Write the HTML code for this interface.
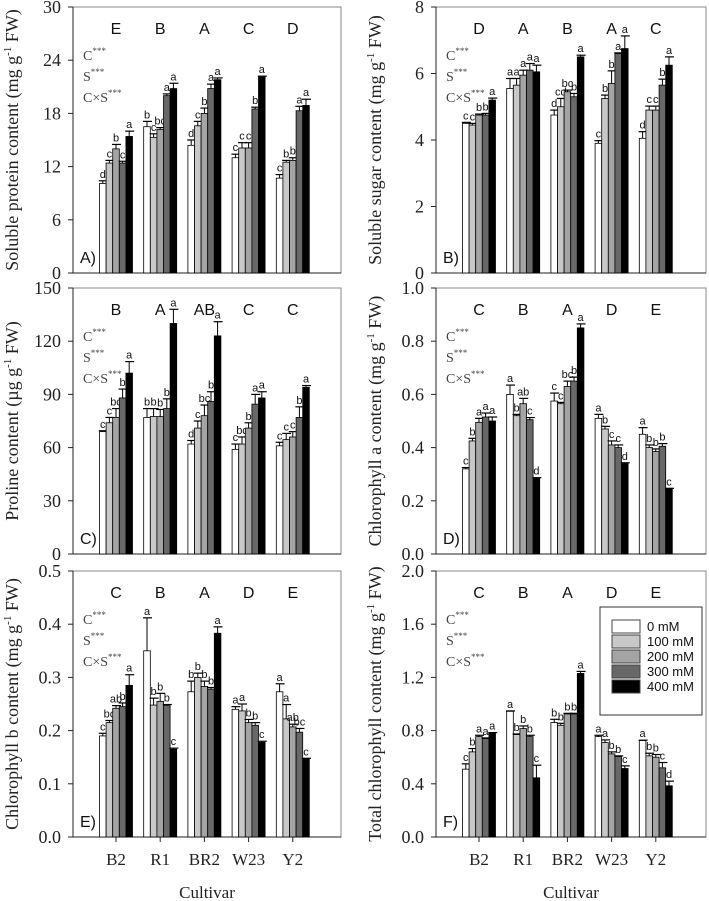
<!DOCTYPE html>
<html><head><meta charset="utf-8">
<style>
body{margin:0;background:#fff;}
svg{display:block;}
.tick{font-family:"Liberation Serif",serif;font-size:18px;fill:#222;}
.ytitle{font-family:"Liberation Serif",serif;font-size:18px;fill:#222;}
.glet{font-family:"Liberation Sans",sans-serif;font-size:16px;fill:#111;}
.blet{font-family:"Liberation Sans",sans-serif;font-size:11px;fill:#111;}
.sig{font-family:"Liberation Serif",serif;font-size:14px;fill:#444;}
.plab{font-family:"Liberation Sans",sans-serif;font-size:16px;fill:#111;}
.xl{font-family:"Liberation Serif",serif;font-size:17px;fill:#222;}
.leg{font-family:"Liberation Sans",sans-serif;font-size:13px;fill:#111;}
</style></head>
<body>
<svg id="fig" width="709" height="901" viewBox="0 0 709 901" xmlns="http://www.w3.org/2000/svg"></svg>
<script>
const cultivars = ["B2","R1","BR2","W23","Y2"];
const treatments = ["0 mM","100 mM","200 mM","300 mM","400 mM"];
const fills = ["#ffffff","#c8c8c8","#a4a4a4","#686868","#000000"];

const proteinVals = [[10.1,12.4,14.0,12.4,15.4],[16.5,15.3,16.2,20.0,20.8],[14.4,16.6,18.0,20.8,21.8],[13.0,14.1,14.1,18.5,22.1],[10.7,12.5,12.7,18.3,18.9]];
const proteinErr = [[0.3,0.3,0.5,0.2,0.6],[0.6,0.4,0.2,0.2,0.6],[0.6,0.5,0.6,0.5,0.2],[0.4,0.6,0.6,0.2,0.1],[0.4,0.2,0.3,0.5,0.7]];
const proteinLet = [["d","c","b","c","a"],["b","c","bc","a","a"],["d","c","b","a","a"],["c","c","c","b","a"],["c","b","b","a","a"]];
const proteinGroup = ["E","B","A","C","D"];

const sugarVals = [[4.5,4.45,4.75,4.75,5.2],[5.55,5.65,5.95,6.1,6.05],[4.75,5.0,5.45,5.3,6.5],[3.9,5.25,5.7,6.6,6.75],[4.05,4.9,4.9,5.65,6.25]];
const sugarErr = [[0.03,0.05,0.03,0.05,0.06],[0.3,0.2,0.15,0.2,0.2],[0.15,0.25,0.05,0.1,0.05],[0.08,0.1,0.38,0.02,0.38],[0.2,0.12,0.12,0.18,0.25]];
const sugarLet = [["c","c","b","b","a"],["a","a","a","a","a"],["d","cd","bc","b","a"],["c","b","b","a","a"],["d","c","c","b","a"]];
const sugarGroup = ["D","A","B","A","C"];

const prolineVals = [[69,74,77,88,102],[77,77.5,77.5,82,130],[62,71,78,86,123],[59,62,71,84.5,88],[61,64.5,66,77,94]];
const prolineErr = [[0.5,3,5,5,6.5],[5,4.5,4,5.5,8],[2,4,6,5.5,8],[3,4,3,5.5,3.5],[2,3.5,3,6,1]];
const prolineLet = [["c","c","bc","b","a"],["b","b","b","b","a"],["d","c","bc","b","a"],["c","bc","b","a","a"],["c","c","c","b","a"]];
const prolineGroup = ["B","A","AB","C","C"];

const chlaVals = [[0.32,0.425,0.495,0.515,0.50],[0.60,0.52,0.565,0.505,0.285],[0.575,0.565,0.63,0.65,0.85],[0.51,0.47,0.41,0.40,0.34],[0.45,0.40,0.385,0.405,0.245]];
const chlaErr = [[0.005,0.01,0.015,0.015,0.015],[0.035,0.005,0.02,0.008,0.002],[0.03,0.005,0.02,0.015,0.015],[0.015,0.01,0.015,0.01,0.003],[0.025,0.01,0.01,0.01,0.002]];
const chlaLet = [["c","b","a","a","a"],["a","b","ab","c","d"],["c","c","bc","b","a"],["a","b","c","c","d"],["a","b","b","b","c"]];
const chlaGroup = ["C","B","A","D","E"];

const chlbVals = [[0.19,0.215,0.242,0.245,0.285],[0.35,0.248,0.255,0.247,0.165],[0.273,0.30,0.283,0.278,0.383],[0.24,0.237,0.215,0.21,0.178],[0.273,0.222,0.207,0.197,0.147]];
const chlbErr = [[0.005,0.004,0.005,0.007,0.02],[0.062,0.013,0.015,0.002,0.002],[0.02,0.008,0.01,0.003,0.012],[0.005,0.013,0.006,0.005,0.002],[0.015,0.027,0.005,0.007,0.001]];
const chlbLet = [["c","bc","ab","b","a"],["a","b","b","b","c"],["b","b","b","b","a"],["a","a","b","b","c"],["a","a","ab","bc","c"]];
const chlbGroup = ["C","B","A","D","E"];

const totVals = [[0.51,0.64,0.755,0.74,0.78],[0.945,0.77,0.815,0.755,0.445],[0.86,0.84,0.925,0.925,1.23],[0.755,0.71,0.625,0.605,0.515],[0.725,0.61,0.60,0.52,0.385]];
const totErr = [[0.04,0.025,0.01,0.005,0.005],[0.003,0.005,0.02,0.01,0.095],[0.025,0.015,0.005,0.005,0.015],[0.01,0.02,0.015,0.005,0.02],[0.003,0.02,0.02,0.04,0.035]];
const totLet = [["c","b","a","a","a"],["a","b","b","b","c"],["b","b","b","b","a"],["a","a","b","b","c"],["a","b","b","c","d"]];
const totGroup = ["C","B","A","D","E"];

const NS = "http://www.w3.org/2000/svg";
const svg = document.getElementById("fig");
function mk(tag, attrs, parent, text){
  const e = document.createElementNS(NS, tag);
  for (const k in attrs) e.setAttribute(k, attrs[k]);
  if (text !== undefined) e.textContent = text;
  (parent || svg).appendChild(e);
  return e;
}

const panels = [
  {id:"a",label:"A)",x:73,y:7,w:268,h:266,max:30,ticks:[0,6,12,18,24,30],dec:0,title:"Soluble protein content (mg g",vals:proteinVals,err:proteinErr,lets:proteinLet,grp:proteinGroup,xl:false},
  {id:"b",label:"B)",x:436,y:7,w:270,h:266,max:8,ticks:[0,2,4,6,8],dec:0,title:"Soluble sugar content (mg g",vals:sugarVals,err:sugarErr,lets:sugarLet,grp:sugarGroup,xl:false},
  {id:"c",label:"C)",x:73,y:288,w:268,h:266,max:150,ticks:[0,30,60,90,120,150],dec:0,title:"Proline content (\u00b5g g",vals:prolineVals,err:prolineErr,lets:prolineLet,grp:prolineGroup,xl:false},
  {id:"d",label:"D)",x:436,y:288,w:270,h:266,max:1.0,ticks:[0,0.2,0.4,0.6,0.8,1.0],dec:1,title:"Chlorophyll a content (mg g",vals:chlaVals,err:chlaErr,lets:chlaLet,grp:chlaGroup,xl:false},
  {id:"e",label:"E)",x:73,y:571,w:268,h:266,max:0.5,ticks:[0,0.1,0.2,0.3,0.4,0.5],dec:1,title:"Chlorophyll b content (mg g",vals:chlbVals,err:chlbErr,lets:chlbLet,grp:chlbGroup,xl:true},
  {id:"f",label:"F)",x:436,y:571,w:270,h:266,max:2.0,ticks:[0,0.4,0.8,1.2,1.6,2.0],dec:1,title:"Total chlorophyll content (mg g",vals:totVals,err:totErr,lets:totLet,grp:totGroup,xl:true}
];

panels.forEach(p=>{
  const g = mk("g",{});
  
  
  const yS = v => p.y + p.h - v/p.max*p.h;
  const bw = 6.6;
  const gx = ci => p.x + 43 + ci*44.2;
  const xS = (ci, ti) => gx(ci) + (ti-2.5)*bw;
  const fr = mk("rect",{x:p.x,y:p.y,width:p.w,height:p.h,fill:"none",stroke:"#888","stroke-width":1},g);
  
  
  mk("line",{x1:p.x,y1:p.y,x2:p.x,y2:p.y+p.h,stroke:"#222","stroke-width":1},g);
  mk("line",{x1:p.x,y1:p.y+p.h,x2:p.x+p.w,y2:p.y+p.h,stroke:"#222","stroke-width":1},g);
  p.ticks.forEach(t=>{
    const y = yS(t);
    mk("line",{x1:p.x-5,y1:y,x2:p.x,y2:y,stroke:"#222"},g);
    const tl = mk("text",{x:p.x-12,y:y+6,"text-anchor":"end",class:"tick"},g,t.toFixed(p.dec));
    
    
  });
  const cx = p.x - 55, cy = p.y + p.h/2;
  const yt = mk("text",{x:cx,y:cy,"text-anchor":"middle",class:"ytitle",transform:`rotate(-90 ${cx} ${cy})`},g,"");
  
  
  mk("tspan",{},yt,p.title);
  mk("tspan",{dy:-7,"font-size":11},yt,"-1");
  mk("tspan",{dy:7},yt," FW)");
  [["C",0],["S",1],["C\u00d7S",2]].forEach(([s,i])=>{
    const t = mk("text",{x:p.x+10,y:p.y+53+i*21,class:"sig"},g,"");
    
    
    mk("tspan",{},t,s);
    mk("tspan",{dy:-6,"font-size":9},t,"***");
  });
  const pl = mk("text",{x:p.x+7,y:p.y+p.h-10,class:"plab"},g,p.label);
  
  
  p.vals.forEach((row,ci)=>{
    const gl = mk("text",{x:gx(ci),y:p.y+27,"text-anchor":"middle",class:"glet"},g,p.grp[ci]);
    
    
    row.forEach((v,ti)=>{
      const x = xS(ci,ti), y = yS(v);
      const r = mk("rect",{x:x,y:y,width:bw,height:p.y+p.h-y,fill:fills[ti],stroke:"#000","stroke-width":0.8},g);
      
      
      const ey = yS(v + p.err[ci][ti]);
      const mx = x + bw/2;
      mk("line",{x1:mx,y1:y,x2:mx,y2:ey,stroke:"#000","stroke-width":1},g);
      mk("line",{x1:mx-4,y1:ey,x2:mx+5,y2:ey,stroke:"#000","stroke-width":1.2},g);
      const bl = mk("text",{x:mx,y:ey-3,"text-anchor":"middle",class:"blet"},g,p.lets[ci][ti]);
      
      
    });
    if (p.xl){
      mk("line",{x1:gx(ci),y1:p.y+p.h,x2:gx(ci),y2:p.y+p.h+5,stroke:"#222"},g);
      const xl = mk("text",{x:gx(ci),y:p.y+p.h+28,"text-anchor":"middle",class:"xl"},g,cultivars[ci]);
      
      
    }
  });
  if (p.xl){
    const xt = mk("text",{x:p.x+p.w/2,y:p.y+p.h+61,"text-anchor":"middle",class:"xl","font-size":19},g,"Cultivar");
    
    
  }
});

const lg = mk("g",{});


mk("rect",{x:600,y:607,width:102,height:108,fill:"#fff",stroke:"#333","stroke-width":1},lg);
treatments.forEach((t,i)=>{
  const y = 620 + i*15;
  const sw = mk("rect",{x:612,y:y,width:28,height:13,fill:fills[i],stroke:"#444","stroke-width":1},lg);
  
  
  const tx = mk("text",{x:647,y:y+11,class:"leg"},lg,t);
  
  
});
</script>
</body></html>
